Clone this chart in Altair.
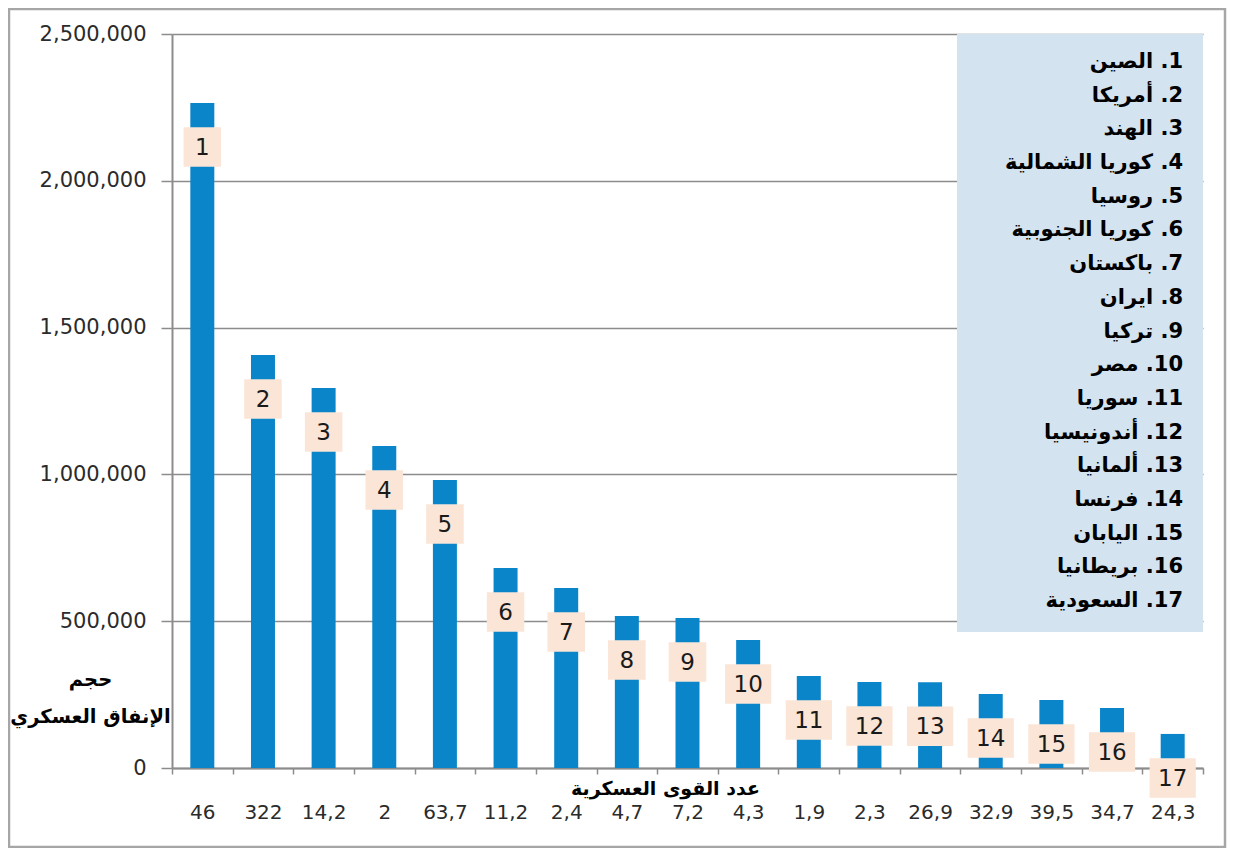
import altair as alt
import pandas as pd

# ---- data ----
ranks = list(range(1, 18))
countries = ["الصين", "أمريكا", "الهند", "كوريا الشمالية", "روسيا", "كوريا الجنوبية",
             "باكستان", "ايران", "تركيا", "مصر", "سوريا", "أندونيسيا", "ألمانيا",
             "فرنسا", "اليابان", "بريطانيا", "السعودية"]
spending = [2265000, 1407000, 1294000, 1097000, 981000, 681000, 613000, 518000,
            511000, 436000, 313000, 293000, 292000, 252000, 232000, 204000, 116000]
troops = ["46", "322", "14,2", "2", "63,7", "11,2", "2,4", "4,7", "7,2", "4,3",
          "1,9", "2,3", "26,9", "32،9", "39,5", "34,7", "24,3"]
y_ticks = [0, 500000, 1000000, 1500000, 2000000, 2500000]

df = pd.DataFrame({
    "rank": ranks,
    "country": countries,
    "spending": spending,
    "troops": troops,
})
df["rank_txt"] = df["rank"].astype(str)
df["legend_txt"] = "\u202B" + df["rank_txt"] + ". " + df["country"] + "\u202C"

W, H = 1031, 734
FONT = "DejaVu Sans"
LABEL_OFFSET = 44

x_enc = alt.X("troops:N", sort=troops, scale=alt.Scale(paddingInner=0, paddingOuter=0),
              axis=alt.Axis(title="عدد القوى العسكرية", titleX=493, titleY=20,
                            titleAlign="center", titleBaseline="middle",
                            titleFont=FONT, titleFontSize=19, titleFontWeight="bold",
                            titleColor="#000000",
                            labelAngle=0, labelFont=FONT, labelFontSize=20,
                            labelColor="#2b2b2b", labelPadding=28, labelBaseline="top",
                            tickBand="extent", tickSize=6, tickColor="#8c8c8c",
                            tickWidth=1.5, domainColor="#8c8c8c", domainWidth=2,
                            grid=False))
y_enc = alt.Y("spending:Q", scale=alt.Scale(domain=[0, 2500000], nice=False),
              axis=alt.Axis(values=y_ticks, labelExpr="format(datum.value, ',')",
                            title=["حجم", "الإنفاق العسكري"],
                            titleAngle=0, titleX=-82, titleY=636, titleAlign="center",
                            titleBaseline="top", titleLineHeight=37,
                            titleFont=FONT, titleFontSize=19.5, titleFontWeight="bold",
                            titleColor="#000000",
                            labelFont=FONT, labelFontSize=21, labelColor="#2b2b2b",
                            labelPadding=15, tickSize=11, tickColor="#8c8c8c",
                            tickWidth=1.5, domainColor="#8c8c8c", domainWidth=2,
                            grid=True, gridColor="#8c8c8c", gridWidth=1.5))

base = alt.Chart(df)

bars = base.mark_bar(size=24, color="#0B85C9").encode(x=x_enc, y=y_enc)

box_single = base.transform_filter("datum.rank < 10").mark_point(
    shape="M-0.95,-1L0.95,-1L0.95,1L-0.95,1Z", size=1560, filled=True,
    fill="#FBE5D6", opacity=1, strokeWidth=0, yOffset=LABEL_OFFSET
).encode(x=x_enc, y=y_enc)

box_double = base.transform_filter("datum.rank >= 10").mark_point(
    shape="M-1.17,-1L1.17,-1L1.17,1L-1.17,1Z", size=1560, filled=True,
    fill="#FBE5D6", opacity=1, strokeWidth=0, yOffset=LABEL_OFFSET
).encode(x=x_enc, y=y_enc)

nums = base.mark_text(font=FONT, fontSize=23, color="#1a1a1a", baseline="middle",
                      align="center", dy=LABEL_OFFSET + 1).encode(
    x=x_enc, y=y_enc, text="rank_txt:N")

main = alt.layer(bars, box_single, box_double, nums)

one = alt.Chart(pd.DataFrame({"a": [0]}))

legend_box = one.mark_rect(color="#D3E3F0").encode(
    x=alt.value(785), x2=alt.value(1031), y=alt.value(0), y2=alt.value(598))

legend_txt = base.mark_text(font="DejaVu Sans", fontSize=21, fontWeight="bold",
                            color="#000000", align="right", baseline="middle").encode(
    x=alt.value(1011),
    y=alt.Y("rank:Q", scale=alt.Scale(domain=[1, 17], range=[28, 567]), axis=None),
    text="legend_txt:N")

frame = one.mark_rect(fill="transparent", stroke="#a6a6a6", strokeWidth=2.5).encode(
    x=alt.value(-163), x2=alt.value(1053), y=alt.value(-25), y2=alt.value(813))

chart = alt.layer(frame, main, legend_box, legend_txt).resolve_scale(
    y="independent"
).properties(
    width=W, height=H,
    autosize=alt.AutoSizeParams(type="none"),
    padding={"left": 164, "top": 26, "right": 24, "bottom": 80},
    background="#ffffff",
).configure_view(strokeWidth=0)

chart.save("out.html", embed_options={"renderer": "svg", "actions": False})
